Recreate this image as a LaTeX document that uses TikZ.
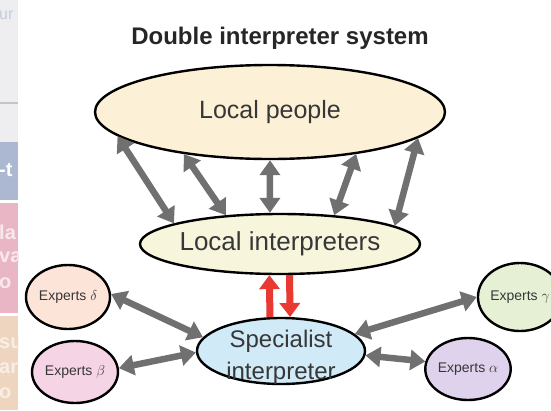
\documentclass[tikz,border=0pt]{standalone}
\usepackage{fontspec}
\setmainfont{Liberation Sans}
\usetikzlibrary{arrows.meta,shapes.geometric}
\definecolor{linkgray}{RGB}{112,112,112}
\definecolor{inkgray}{RGB}{55,55,55}
\definecolor{redlink}{RGB}{232,58,50}
\definecolor{peoplefill}{RGB}{252,240,214}
\definecolor{localfill}{RGB}{248,245,221}
\definecolor{specfill}{RGB}{208,234,248}
\definecolor{deltafill}{RGB}{253,228,216}
\definecolor{betafill}{RGB}{245,212,230}
\definecolor{gammafill}{RGB}{229,240,212}
\definecolor{alphafill}{RGB}{222,210,236}
\definecolor{stripgray}{RGB}{238,238,240}
\definecolor{stripline}{RGB}{195,195,200}
\definecolor{stripblue}{RGB}{172,183,210}
\definecolor{strippink}{RGB}{232,182,196}
\definecolor{strippeach}{RGB}{237,213,192}
\tikzstyle{bubble}=[ellipse, draw=black, line width=2.4pt, inner sep=0pt, text=inkgray]
\tikzstyle{expert}=[bubble, font=\fontsize{14}{16}\selectfont]
\tikzstyle{link}=[linkgray, line width=6.5pt, >={Triangle[width=20pt,length=15pt]}, <->]
\tikzstyle{handover}=[redlink, line width=7pt, >={Triangle[width=20pt,length=14pt]}, ->]
\tikzstyle{scrap}=[anchor=west, inner sep=0pt, font=\fontsize{20}{20}\selectfont\bfseries]
\newcommand{\bubble}{\node[bubble]}
\newcommand{\expert}{\node[expert]}

\begin{document}
\begin{tikzpicture}[x=1pt,y=-1pt]
	\useasboundingbox (0,0) rectangle (551,410);
	% cropped slide on the left
	\fill[stripgray] (0,0) rectangle (18,142);
	\draw[stripline, line width=1.5pt] (0,103) -- (18,103);
	\fill[stripblue] (0,142) rectangle (18,200);
	\fill[strippink] (0,203) rectangle (18,313);
	\fill[strippeach] (0,316) rectangle (18,410);
	\begin{scope}
	\clip (0,0) rectangle (18,410);
	\node[scrap, text=stripblue!70, font=\fontsize{16}{16}\selectfont] (s1) at (-1,15) {ur};
	\node[scrap, text=white] (s2) at (-1,170) {-t};
	\node[scrap, text=white!70!strippink] (s3) at (-1,232) {la};
	\node[scrap, text=white!70!strippink] (s4) at (-1,257) {va};
	\node[scrap, text=white!70!strippink] (s5) at (-1,283) {o};
	\node[scrap, text=white!60!strippeach] (s6) at (-1,343) {su};
	\node[scrap, text=white!60!strippeach] (s7) at (-1,368) {ar};
	\node[scrap, text=white!60!strippeach] (s8) at (-1,393) {o};
	\end{scope}

	\node[font=\fontsize{24}{28}\selectfont\bfseries, text=black!85] (title) at (280,38) {Double interpreter system};
	\bubble[fill=peoplefill, minimum width=350pt, minimum height=94pt, font=\fontsize{25}{28}\selectfont] (lp) at (270,112) {Local people};
	\bubble[fill=localfill, minimum width=280pt, minimum height=60pt, inner xsep=-3pt, font=\fontsize{26}{28}\selectfont] (li) at (280,244) {Local interpreters};
	\bubble[fill=specfill, minimum width=168pt, minimum height=66pt] (si) at (281,351) {};
	\node[align=center, text=inkgray, font=\fontsize{24}{32}\selectfont] (sitext) at ([yshift=-6pt]si.center) {Specialist\\interpreter};
	\expert[fill=deltafill, minimum width=84pt, minimum height=64pt] (ed) at (68,297) {Experts $\delta$};
	\expert[fill=betafill, minimum width=86pt, minimum height=62pt] (eb) at (75,372) {Experts $\beta$};
	\expert[fill=gammafill, minimum width=84pt, minimum height=68pt] (eg) at (520,297) {Experts $\gamma$};
	\expert[fill=alphafill, minimum width=84pt, minimum height=62pt] (ea) at (468,369) {Experts $\alpha$};

	\path[link]
		(lp.189) edge (li.169)
		(lp.206) edge (li.152)
		(lp.270) edge (li.108)
		(lp.334) edge (li.28)
		(lp.350) edge (li.9)
		(ed.4) edge (si.170)
		(eb.5) edge (si.181)
		(eg.180) edge (si.13)
		(ea.170) edge (si.357);
	\path[handover]
		(si.108) edge (li.251)
		(li.287) edge (si.75);
\end{tikzpicture}
\end{document}
